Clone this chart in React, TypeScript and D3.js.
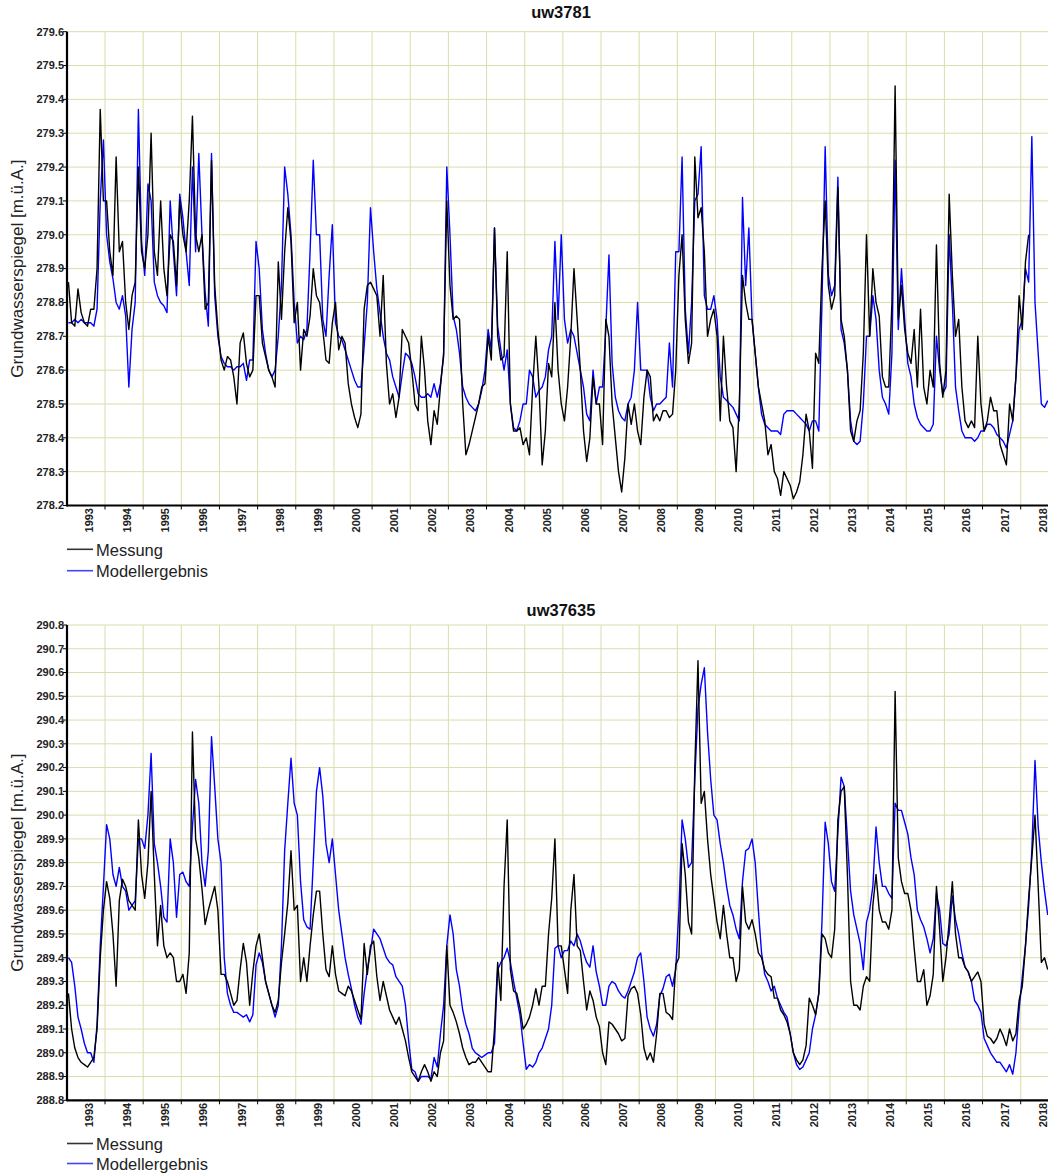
import React from 'react';
import * as d3 from 'd3';

// ---------- DATA (monthly values, first value = Jan 1993) ----------
const START_YEAR = 1993;
const yearLabels = d3.range(1993, 2019);
const yearBoundaries = d3.range(1994, 2019);
const seriesNames = ['Messung', 'Modellergebnis'];

// uw3781 – Messung
const messung1: (number | null)[] = [
  278.86, 278.74, 278.73, 278.84, 278.77, 278.74, 278.73, 278.78, 278.78, 278.9, 279.37, 279.1,
  279.1, 278.95, 278.88, 279.23, 278.95, 278.98, 278.8, 278.72, 278.82, 278.86, 279.2, 278.95,
  278.9, 279.0, 279.3, 278.95, 278.88, 279.1, 278.9, 278.82, 279.0, 278.98, 278.85, 279.1,
  279.0, 278.95, 279.1, 279.35, 279.0, 278.95, 279.0, 278.78, 278.8, 279.22, 278.85, 278.72,
  278.63, 278.6, 278.64, 278.63, 278.58, 278.5, 278.68, 278.71, 278.62, 278.58, 278.6, 278.82,
  278.82, 278.68, 278.64, 278.6, 278.58, 278.55, 278.92, 278.75, 278.95, 279.08, 278.98, 278.74,
  278.8, 278.6, 278.72, 278.7, 278.76, 278.9, 278.82, 278.8, 278.72, 278.63, 278.62, 278.74,
  278.8, 278.66, 278.7, 278.68, 278.56, 278.5, 278.46, 278.43, 278.47, 278.78, 278.85, 278.86,
  278.84, 278.82, 278.7, 278.88, 278.62, 278.5, 278.53, 278.46, 278.52, 278.72, 278.7, 278.68,
  278.6, 278.5, 278.48, 278.7, 278.6, 278.45, 278.38, 278.48, 278.44, 278.55, 278.65, 279.1,
  278.85, 278.75, 278.76, 278.75, 278.5, 278.35, 278.38, 278.42, 278.46, 278.5, 278.55, 278.56,
  278.7, 278.63, 279.02, 278.7, 278.63, 278.64, 278.95, 278.5, 278.42, 278.42, 278.43, 278.38,
  278.4, 278.35, 278.55, 278.7, 278.55, 278.32, 278.42, 278.62, 278.58, 278.8, 278.6, 278.5,
  278.45, 278.55, 278.7, 278.9, 278.75, 278.6, 278.42, 278.33, 278.4, 278.58, 278.5, 278.5,
  278.38, 278.75, 278.7, 278.5, 278.4, 278.3, 278.24, 278.34, 278.5, 278.44, 278.5, 278.42,
  278.38, 278.52, 278.6, 278.58, 278.45, 278.47, 278.45, 278.48, 278.48, 278.46, 278.47, 278.6,
  278.88, 279.0, 278.75, 278.62, 278.68, 279.23, 279.05, 279.08, 278.95, 278.7, 278.75, 278.78,
  278.7, 278.45, 278.7, 278.55, 278.45, 278.43, 278.3, 278.5, 278.88, 278.8, 278.75, 278.75,
  278.65, 278.55, 278.5, 278.45, 278.35, 278.38, 278.3, 278.28, 278.23, 278.3, 278.28, 278.26,
  278.22, 278.24, 278.27, 278.35, 278.47, 278.42, 278.31, 278.65, 278.62, 278.9, 279.1, 278.85,
  278.78, 278.82, 279.14, 278.75, 278.7, 278.6, 278.42, 278.39, 278.45, 278.48, 278.65, 279.0,
  278.7, 278.9, 278.8, 278.76, 278.58, 278.55, 278.55, 278.8, 279.44, 278.75, 278.85, 278.72,
  278.65, 278.62, 278.72, 278.55, 278.78, 278.55, 278.5, 278.6, 278.55, 278.97, 278.62, 278.52,
  278.6, 279.12, 278.88, 278.7, 278.75, 278.55, 278.45, 278.43, 278.45, 278.43, 278.7, 278.5,
  278.42, 278.45, 278.52, 278.48, 278.48, 278.38, 278.35, 278.32, 278.5, 278.45, 278.58, 278.82,
  278.72, 278.92, 279.0, null, null, null, null, null, null,
];

// uw3781 – Modellergebnis
const modell1: (number | null)[] = [
  278.74, 278.74, 278.75, 278.74, 278.75, 278.74, 278.74, 278.74, 278.73, 278.78, 279.1, 279.28,
  279.0, 278.92, 278.87, 278.8, 278.78, 278.82, 278.76, 278.55, 278.72, 278.8, 279.37, 278.98,
  278.88, 279.15, 279.1, 278.86, 278.82, 278.8, 278.79, 278.77, 279.1, 278.95, 278.82, 279.12,
  279.05, 278.95, 278.85, 279.2, 278.95, 279.24, 279.0, 278.83, 278.73, 279.24, 278.82, 278.7,
  278.64, 278.62, 278.61, 278.61, 278.6, 278.61, 278.61, 278.62, 278.57, 278.63, 278.63, 278.98,
  278.9, 278.72, 278.65, 278.6, 278.58, 278.6, 278.7, 278.85, 279.2, 279.12, 279.0, 278.8,
  278.68, 278.7, 278.69, 278.72, 278.95, 279.22, 279.0, 279.0, 278.75, 278.7, 278.88, 279.03,
  278.74, 278.7, 278.69, 278.66, 278.63, 278.6, 278.57, 278.55, 278.55, 278.67, 278.8, 279.08,
  278.95, 278.84, 278.77, 278.7, 278.65, 278.63, 278.58, 278.55, 278.52, 278.59, 278.65, 278.64,
  278.62, 278.58, 278.53, 278.52, 278.52, 278.53, 278.52, 278.56, 278.52, 278.56, 278.64, 279.2,
  279.0, 278.76, 278.72, 278.65, 278.55, 278.52, 278.5, 278.49, 278.48, 278.5, 278.54, 278.6,
  278.72, 278.66, 279.02, 278.73, 278.66, 278.6, 278.66, 278.5, 278.43, 278.42, 278.45, 278.5,
  278.5, 278.6, 278.58, 278.52, 278.54, 278.55, 278.58, 278.66, 278.7, 278.98, 278.75, 279.0,
  278.75, 278.68, 278.72, 278.7, 278.65, 278.6, 278.55, 278.47, 278.45, 278.6, 278.5, 278.55,
  278.55, 278.72, 278.94, 278.62, 278.52, 278.48, 278.46, 278.45, 278.5, 278.52, 278.6, 278.8,
  278.6, 278.6, 278.6, 278.52, 278.48, 278.5, 278.5, 278.51, 278.52, 278.68, 278.55, 278.95,
  278.95, 279.23, 278.78, 278.65, 278.8, 279.1, 279.12, 279.26, 278.82, 278.78, 278.78, 278.82,
  278.75, 278.58, 278.52, 278.51, 278.5, 278.49, 278.47, 278.45, 279.11, 278.85, 279.02, 278.75,
  278.65, 278.55, 278.47, 278.44, 278.43, 278.42, 278.42, 278.42, 278.41, 278.47, 278.48, 278.48,
  278.48, 278.47, 278.46, 278.45, 278.44, 278.42, 278.45, 278.45, 278.42, 278.8, 279.26, 278.88,
  278.82, 278.85, 279.17, 278.72, 278.68, 278.6, 278.45, 278.39, 278.38, 278.39, 278.5, 278.7,
  278.7, 278.82, 278.75, 278.6, 278.52, 278.5, 278.47, 278.65, 279.22, 278.72, 278.9, 278.75,
  278.62, 278.58, 278.5, 278.46, 278.44, 278.43, 278.42, 278.42, 278.44, 278.7, 278.6, 278.53,
  278.55, 279.0, 278.8, 278.55, 278.48, 278.42, 278.4, 278.4, 278.4, 278.39, 278.4, 278.42,
  278.42, 278.44, 278.44, 278.43, 278.41, 278.4, 278.39, 278.37, 278.41, 278.45, 278.58, 278.72,
  278.75, 278.9, 278.86, 279.29, 278.8, 278.65, 278.5, 278.49, 278.51,
];

// uw37635 – Messung
const messung2: (number | null)[] = [
  289.25, 289.1, 289.02, 288.98, 288.96, 288.95, 288.94, 288.96, 288.98, 289.1, 289.4, 289.6,
  289.72, 289.65, 289.5, 289.28, 289.64, 289.73, 289.7, 289.64, 289.62, 289.6, 289.98, 289.75,
  289.65, 289.8, 290.1, 289.75, 289.45, 289.62, 289.45, 289.4, 289.42, 289.4, 289.3, 289.3,
  289.33, 289.25, 289.42, 290.35, 289.9, 289.82, 289.69, 289.54, 289.6, 289.65, 289.7, 289.6,
  289.33, 289.33, 289.3, 289.25, 289.2, 289.22, 289.35, 289.46, 289.38, 289.2, 289.34, 289.45,
  289.5, 289.4, 289.3, 289.25, 289.2, 289.17, 289.22, 289.38, 289.5, 289.63, 289.85, 289.6,
  289.62, 289.3, 289.4, 289.3, 289.45, 289.58, 289.68, 289.68, 289.5, 289.35, 289.32, 289.45,
  289.33, 289.26, 289.25, 289.24, 289.28, 289.26, 289.22, 289.18, 289.14, 289.46, 289.33, 289.45,
  289.47, 289.32, 289.22, 289.3, 289.24, 289.18, 289.15, 289.12, 289.15, 289.1, 289.05, 288.98,
  288.92, 288.9, 288.88, 288.92, 288.95, 288.92, 288.88, 288.92, 288.9, 289.0, 289.05, 289.45,
  289.2, 289.17, 289.13, 289.08, 289.02, 288.98, 288.95, 288.96, 288.96, 288.98, 288.96, 288.94,
  288.92, 288.92, 289.1, 289.38, 289.22, 289.7, 289.98, 289.35, 289.26, 289.25, 289.19, 289.1,
  289.12, 289.15, 289.2, 289.27, 289.2, 289.28, 289.28, 289.5, 289.65, 289.9, 289.45, 289.45,
  289.35, 289.25, 289.6, 289.75, 289.45, 289.43, 289.3, 289.18, 289.26, 289.22, 289.15, 289.11,
  289.0, 288.95, 289.13, 289.12, 289.1, 289.08, 289.05, 289.06, 289.24, 289.27, 289.28, 289.25,
  289.16, 289.02, 288.97, 289.0, 288.96, 289.08, 289.25, 289.25, 289.17, 289.16, 289.14, 289.37,
  289.4, 289.88, 289.75, 289.55, 289.5, 290.2, 290.65, 290.05, 290.1, 289.9, 289.75, 289.65,
  289.55, 289.48, 289.62, 289.5, 289.4, 289.4, 289.3, 289.35, 289.7, 289.55, 289.52, 289.56,
  289.5, 289.42, 289.4, 289.35, 289.33, 289.32, 289.23, 289.23, 289.18, 289.16, 289.13, 289.08,
  289.0, 288.97, 288.95, 288.97, 289.03, 289.23, 289.2, 289.16, 289.25, 289.5, 289.48, 289.42,
  289.4, 289.52, 289.98, 290.1, 290.12, 289.75, 289.3, 289.2, 289.2, 289.18, 289.28, 289.32,
  289.3, 289.62, 289.75, 289.6, 289.55, 289.55, 289.52, 289.6, 290.52, 289.82, 289.72, 289.67,
  289.67, 289.6, 289.44, 289.3, 289.3, 289.35, 289.2, 289.24, 289.33, 289.7, 289.52, 289.3,
  289.4, 289.55, 289.72, 289.5, 289.4, 289.4, 289.36, 289.34, 289.3, 289.32, 289.34, 289.3,
  289.12, 289.07, 289.06, 289.04, 289.06, 289.1, 289.07, 289.03, 289.1, 289.05, 289.08, 289.22,
  289.28, 289.45, 289.65, 289.82, 290.0, 289.7, 289.38, 289.4, 289.35,
];

// uw37635 – Modellergebnis
const modell2: (number | null)[] = [
  289.4, 289.38, 289.28, 289.15, 289.1, 289.04, 289.0, 289.0, 288.96, 289.12, 289.45, 289.7,
  289.96, 289.9, 289.75, 289.7, 289.78, 289.7, 289.68, 289.6, 289.62, 289.64, 289.9, 289.9,
  289.86, 290.0, 290.26, 289.88, 289.8, 289.7, 289.57, 289.55, 289.9, 289.8, 289.57, 289.75,
  289.76, 289.72, 289.7, 289.95, 290.15, 290.05, 289.8, 289.7, 289.85, 290.33, 290.12, 289.9,
  289.8, 289.4, 289.25, 289.2, 289.17, 289.17, 289.16, 289.15, 289.16, 289.13, 289.16, 289.37,
  289.42, 289.38, 289.3, 289.25, 289.2, 289.15, 289.2, 289.45, 289.85, 290.05, 290.24, 290.05,
  290.0, 289.72, 289.56, 289.53, 289.52, 289.8, 290.1, 290.2, 290.08, 289.88, 289.8, 289.9,
  289.75, 289.6, 289.5, 289.4, 289.33, 289.27, 289.2, 289.15, 289.12, 289.25, 289.35, 289.43,
  289.52, 289.5, 289.48, 289.44, 289.4, 289.38, 289.37, 289.32, 289.3, 289.28, 289.2, 289.05,
  288.93, 288.92, 288.88, 288.9, 288.9, 288.9, 288.89, 288.98, 288.94, 289.08, 289.2, 289.45,
  289.58, 289.5, 289.35, 289.28, 289.18, 289.12, 289.08, 289.02, 289.0, 288.99, 288.98, 288.99,
  289.0, 289.0, 289.04, 289.35, 289.38, 289.4, 289.44, 289.38, 289.3, 289.23, 289.16, 289.04,
  288.93, 288.95, 288.94, 288.96, 289.0, 289.02, 289.06, 289.1, 289.2, 289.44, 289.45, 289.4,
  289.43, 289.43, 289.47, 289.45, 289.5, 289.47, 289.42, 289.38, 289.36, 289.45, 289.34, 289.28,
  289.2, 289.2, 289.28, 289.3, 289.29, 289.26, 289.24, 289.23, 289.26, 289.3, 289.34, 289.4,
  289.42, 289.3, 289.15, 289.1, 289.07, 289.12, 289.24, 289.27, 289.32, 289.33, 289.28, 289.35,
  289.6, 289.98, 289.9, 289.78, 289.8, 290.15, 290.45, 290.55, 290.62, 290.35, 290.15, 290.0,
  289.98, 289.88, 289.8, 289.7, 289.62, 289.58, 289.52, 289.48, 289.72, 289.85, 289.86, 289.9,
  289.8, 289.6, 289.42, 289.33, 289.3, 289.26, 289.28, 289.23, 289.2, 289.17, 289.15, 289.08,
  289.0, 288.95, 288.93, 288.94, 288.97, 289.0, 289.1, 289.16, 289.25, 289.55, 289.97, 289.88,
  289.72, 289.68, 289.93, 290.16, 290.12, 289.9, 289.68, 289.58, 289.52, 289.46, 289.35, 289.55,
  289.6, 289.7, 289.95, 289.8, 289.7, 289.7, 289.67, 289.65, 290.05, 290.02, 290.02, 289.97,
  289.92, 289.82, 289.75, 289.6, 289.56, 289.53, 289.48, 289.42, 289.48, 289.67, 289.6, 289.46,
  289.45, 289.5, 289.66, 289.56, 289.5, 289.42, 289.36, 289.34, 289.3, 289.22, 289.2, 289.17,
  289.06, 289.03, 289.0, 288.98, 288.96, 288.96, 288.94, 288.92, 288.95, 288.91, 289.0, 289.18,
  289.32, 289.45, 289.62, 289.85, 290.23, 289.95, 289.8, 289.68, 289.58,
];

// ---------- LAYOUT ----------
const W = 1048;
const H = 1175;
const PLOT_L = 67;
const PLOT_R = 1048;
const FONT = 'Arial, "Liberation Sans", Helvetica, sans-serif';
const GRID = '#dcdcab';
const BLACK = '#000000';
const BLUE = '#0000ff';

const xScale = d3.scaleLinear().domain([1993, 2018]).range([66.85, 1020.7]);

type Pt = { t: number; v: number | null };
const toPoints = (vals: (number | null)[]): Pt[] =>
  vals.map((v, i) => ({ t: START_YEAR + (i + 0.5) / 12, v }));

interface PanelProps {
  id: string;
  title: string;
  titleY: number;
  yDomain: [number, number];
  yRange: [number, number]; // [bottom, top]
  messung: (number | null)[];
  modell: (number | null)[];
  legendY: [number, number];
}

function Panel({ id, title, titleY, yDomain, yRange, messung, modell, legendY }: PanelProps) {
  const y = d3.scaleLinear().domain(yDomain).range(yRange);
  const bottom = yRange[0];
  const top = yRange[1];
  const ticks = d3
    .range(Math.round(yDomain[0] * 10), Math.round(yDomain[1] * 10) + 1)
    .map((d) => d / 10);
  const fmt = d3.format('.1f');
  const line = d3
    .line<Pt>()
    .defined((d) => d.v != null)
    .x((d) => xScale(d.t))
    .y((d) => y(d.v as number));

  const midY = (top + bottom) / 2;

  return (
    <g>
      <defs>
        <clipPath id={`clip-${id}`}>
          <rect x={PLOT_L} y={top - 1} width={PLOT_R - PLOT_L} height={bottom - top + 2} />
        </clipPath>
      </defs>
      {/* title */}
      <text x={561} y={titleY} textAnchor="middle" fontFamily={FONT} fontWeight="bold" fontSize={16.5} fill="#111">
        {title}
      </text>
      {/* grid */}
      {ticks.map((t) => (
        <line key={`h${t}`} x1={PLOT_L} x2={PLOT_R} y1={y(t)} y2={y(t)} stroke={GRID} strokeWidth={1} />
      ))}
      {yearBoundaries.map((yr) => (
        <line key={`v${yr}`} x1={xScale(yr)} x2={xScale(yr)} y1={top} y2={bottom} stroke={GRID} strokeWidth={1} />
      ))}
      {/* series */}
      <g clipPath={`url(#clip-${id})`}>
        <path d={line(toPoints(modell)) || ''} fill="none" stroke={BLUE} strokeWidth={1.4} strokeLinejoin="round" />
        <path d={line(toPoints(messung)) || ''} fill="none" stroke={BLACK} strokeWidth={1.4} strokeLinejoin="round" />
      </g>
      {/* axes */}
      <line x1={PLOT_L} x2={PLOT_L} y1={top} y2={bottom + 1} stroke="#000" strokeWidth={2.2} />
      <line x1={PLOT_L} x2={PLOT_R} y1={bottom} y2={bottom} stroke="#000" strokeWidth={2.2} />
      {ticks.map((t) => (
        <g key={`yt${t}`}>
          <line x1={PLOT_L - 4} x2={PLOT_L} y1={y(t)} y2={y(t)} stroke="#000" strokeWidth={1} />
          <text
            x={PLOT_L - 3}
            y={y(t)}
            dy="0.35em"
            textAnchor="end"
            fontFamily={FONT}
            fontWeight="bold"
            fontSize={11}
            fill="#222"
          >
            {fmt(t)}
          </text>
        </g>
      ))}
      {yearBoundaries.map((yr) => (
        <line key={`xt${yr}`} x1={xScale(yr)} x2={xScale(yr)} y1={bottom} y2={bottom + 4} stroke="#000" strokeWidth={1} />
      ))}
      {yearLabels.map((yr) => (
        <text
          key={`xl${yr}`}
          transform={`translate(${xScale(yr + 0.5) + 7},${bottom + 2.5}) rotate(-90)`}
          textAnchor="end"
          fontFamily={FONT}
          fontWeight="bold"
          fontSize={11}
          fill="#222"
        >
          {yr}
        </text>
      ))}
      {/* y axis label */}
      <text
        transform={`translate(23,${midY}) rotate(-90)`}
        textAnchor="middle"
        fontFamily={FONT}
        fontSize={17}
        fill="#222"
      >
        Grundwasserspiegel [m.ü.A.]
      </text>
      {/* legend */}
      <line x1={67} x2={93} y1={legendY[0]} y2={legendY[0]} stroke="#333" strokeWidth={1.6} />
      <text x={96} y={legendY[0] + 6.5} fontFamily={FONT} fontSize={16.5} fill="#222">
        {seriesNames[0]}
      </text>
      <line x1={67} x2={93} y1={legendY[1]} y2={legendY[1]} stroke="#4444ff" strokeWidth={1.6} />
      <text x={96} y={legendY[1] + 6.5} fontFamily={FONT} fontSize={16.5} fill="#222">
        {seriesNames[1]}
      </text>
    </g>
  );
}

export default function App() {
  return (
    <svg
      width={W}
      height={H}
      viewBox={`0 0 ${W} ${H}`}
      style={{ position: 'absolute', left: 0, top: 0, background: '#fff' }}
    >
      <rect x={0} y={0} width={W} height={H} fill="#fff" />
      <Panel
        id="p1"
        title="uw3781"
        titleY={18}
        yDomain={[278.2, 279.6]}
        yRange={[505.5, 31.7]}
        messung={messung1}
        modell={modell1}
        legendY={[549.3, 570.7]}
      />
      <Panel
        id="p2"
        title="uw37635"
        titleY={616}
        yDomain={[288.8, 290.8]}
        yRange={[1100.3, 625]}
        messung={messung2}
        modell={modell2}
        legendY={[1143.5, 1163.5]}
      />
    </svg>
  );
}
